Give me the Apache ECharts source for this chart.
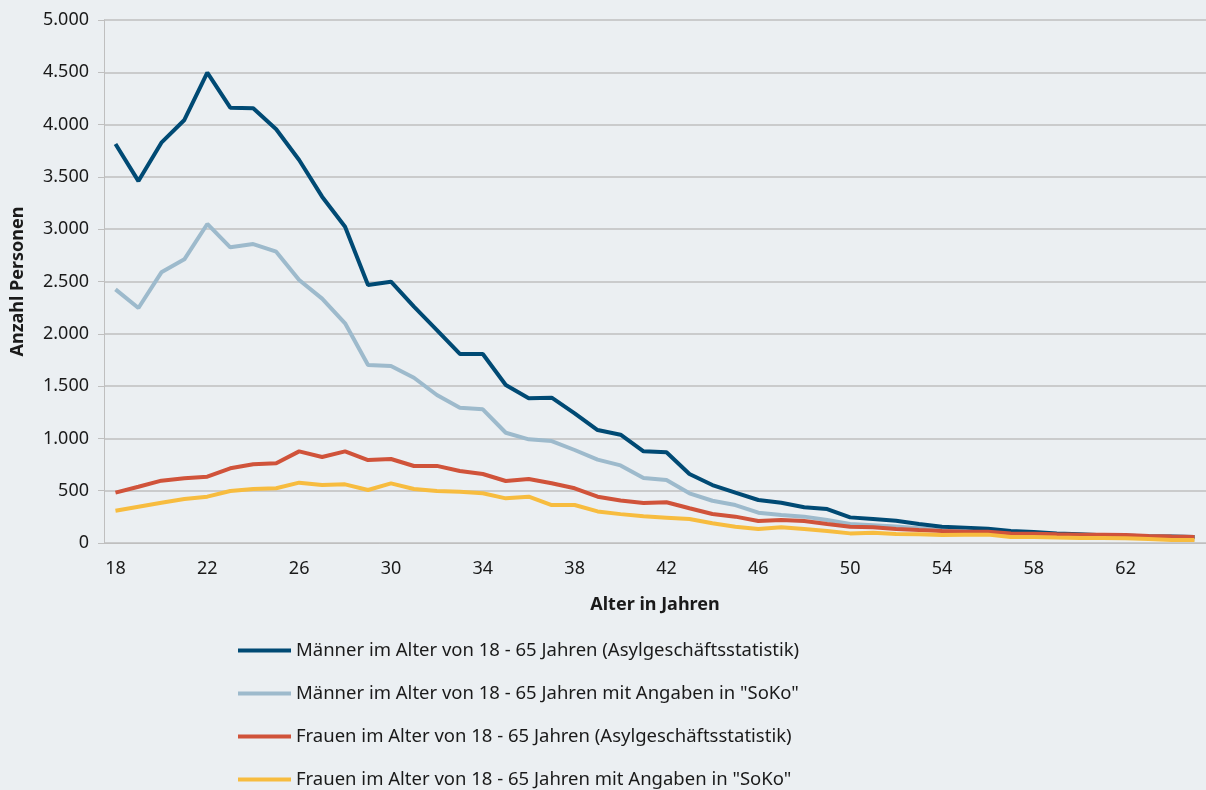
<!DOCTYPE html>
<html>
<head>
<meta charset="utf-8">
<script src="https://cdn.jsdelivr.net/npm/echarts@6/dist/echarts.min.js"></script>
<style>
  html, body { margin: 0; padding: 0; background: #ebeff2; }
  #main { width: 1206px; height: 790px; }
</style>
</head>
<body>
<div id="main"></div>
<script>
// Alter 18 - 65
var ages = [];
for (var a = 18; a <= 65; a++) ages.push(String(a));

var maennerAsyl = [3815, 3460, 3827, 4044, 4496, 4162, 4156, 3955, 3661, 3311,
    3024, 2466, 2498, 2259, 2036, 1807, 1807, 1510, 1383, 1389,
    1240, 1080, 1035, 876, 867, 660, 554, 481, 411, 385,
    341, 325, 245, 229, 213, 182, 156, 147, 137, 115,
    105, 92, 83, 73, 70, 64, 61, 57];
var maennerSoko = [2425, 2247, 2588, 2712, 3050, 2827, 2858, 2785, 2514, 2336,
    2100, 1702, 1692, 1580, 1415, 1293, 1278, 1054, 991, 975,
    889, 797, 742, 621, 602, 475, 404, 363, 290, 268,
    252, 220, 182, 170, 158, 140, 120, 112, 105, 90,
    85, 75, 65, 60, 55, 50, 45, 40];
var frauenAsyl = [481, 538, 596, 618, 634, 714, 752, 762, 876, 822,
    876, 793, 803, 736, 737, 688, 660, 593, 612, 571,
    523, 443, 406, 382, 389, 332, 277, 252, 210, 220,
    210, 182, 156, 150, 134, 124, 115, 108, 108, 92,
    89, 83, 80, 80, 77, 67, 61, 57];
var frauenSoko = [309, 347, 385, 421, 443, 497, 516, 523, 577, 554,
    561, 507, 570, 516, 497, 490, 475, 427, 443, 363,
    363, 302, 276, 255, 242, 229, 188, 156, 134, 150,
    134, 115, 92, 99, 86, 83, 76, 80, 80, 57,
    57, 52, 48, 48, 45, 38, 29, 29];

var names = [
    'Männer im Alter von 18 - 65 Jahren (Asylgeschäftsstatistik)',
    'Männer im Alter von 18 - 65 Jahren mit Angaben in "SoKo"',
    'Frauen im Alter von 18 - 65 Jahren (Asylgeschäftsstatistik)',
    'Frauen im Alter von 18 - 65 Jahren mit Angaben in "SoKo"'
];
var colors = ['#004a74', '#9dbacc', '#d0533a', '#f7bc3f'];

var myChart = echarts.init(document.getElementById('main'));

function line(name, data, color) {
    return {
        name: name,
        type: 'line',
        data: data,
        symbol: 'none',
        smooth: false,
        itemStyle: { color: color },
        lineStyle: { color: color, width: 4 }
    };
}

var option = {
    backgroundColor: '#ebeff2',
    animation: false,
    textStyle: { fontFamily: 'Noto Sans' },
    grid: { left: 104, top: 20, bottom: 247, width: 1106 },
    legend: {
        orient: 'vertical',
        left: 233,
        top: 636,
        height: 180,
        itemWidth: 53,
        itemHeight: 4,
        itemGap: 24,
        icon: 'rect',
        data: names,
        textStyle: { fontSize: 18.5, color: '#1a1a1a', fontFamily: 'Noto Sans' }
    },
    xAxis: {
        type: 'category',
        data: ages,
        boundaryGap: true,
        name: 'Alter in Jahren',
        nameLocation: 'middle',
        nameGap: 53,
        nameTextStyle: { fontWeight: 'bold', fontSize: 18, color: '#1a1a1a' },
        axisLine: { lineStyle: { color: '#bfbfbf', width: 1 } },
        axisTick: { interval: 0, length: 6, lineStyle: { color: '#bfbfbf' } },
        axisLabel: { interval: 3, fontSize: 18, color: '#1a1a1a', margin: 17 }
    },
    yAxis: {
        type: 'value',
        min: 0,
        max: 5000,
        interval: 500,
        name: 'Anzahl Personen',
        nameLocation: 'middle',
        nameGap: 77,
        nameTextStyle: { fontWeight: 'bold', fontSize: 18, color: '#1a1a1a' },
        axisLine: { show: true, lineStyle: { color: '#bfbfbf', width: 1 } },
        axisTick: { show: true, length: 6, lineStyle: { color: '#bfbfbf' } },
        splitLine: { lineStyle: { color: '#bfbfbf', width: 1.5 } },
        axisLabel: {
            fontSize: 18,
            color: '#1a1a1a',
            margin: 15,
            formatter: function (v) {
                return String(v).replace(/\B(?=(\d{3})+(?!\d))/g, '.');
            }
        }
    },
    series: [
        line(names[1], maennerSoko, colors[1]),
        line(names[0], maennerAsyl, colors[0]),
        line(names[2], frauenAsyl, colors[2]),
        line(names[3], frauenSoko, colors[3])
    ]
};

myChart.setOption(option);
</script>
</body>
</html>
